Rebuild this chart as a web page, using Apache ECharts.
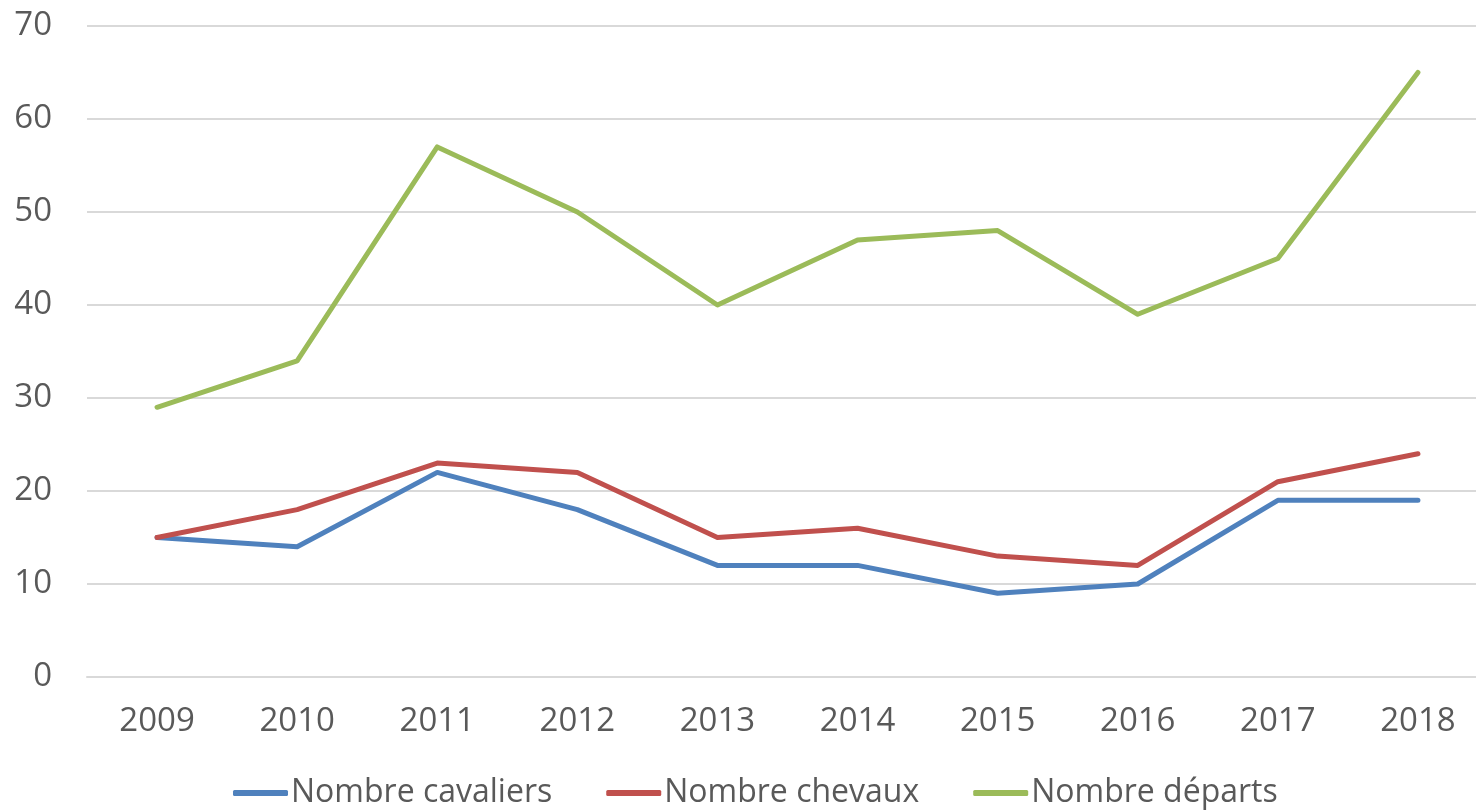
<!DOCTYPE html>
<html><head><meta charset="utf-8">
<script src="https://cdn.jsdelivr.net/npm/echarts@6/dist/echarts.min.js"></script>
<style>html,body{margin:0;padding:0;background:#fff;overflow:hidden}#c{width:1488px;height:811px}</style>
</head><body><div id="c"></div>
<script>
const years = ['2009','2010','2011','2012','2013','2014','2015','2016','2017','2018'];
const cavaliers = [15,14,22,18,12,12,9,10,19,19];
const chevaux = [15,18,23,22,15,16,13,12,21,24];
const departs = [29,34,57,50,40,47,48,39,45,65];
const names = ['Nombre cavaliers','Nombre chevaux','Nombre départs'];
const colors = ['#4F81BD','#C0504D','#9BBB59'];
const font = '"Open Sans", sans-serif';
const chart = echarts.init(document.getElementById('c'));
const mk = (name, data, color) => ({
  name, type: 'line', data, showSymbol: false, symbol: 'none',
  lineStyle: { color, width: 5, cap: 'round', join: 'round' },
  itemStyle: { color }, animation: false
});
chart.setOption({
  animation: false,
  grid: { left: 87, right: 0, top: 26, bottom: 134 },
  legend: {
    top: 772, left: 228, itemGap: 54, itemWidth: 55, itemHeight: 6,
    icon: 'roundRect',
    textStyle: { fontFamily: font, fontSize: 32, color: '#595959', padding: [0,0,0,-2] },
    data: names
  },
  xAxis: {
    type: 'category', data: years, boundaryGap: true,
    axisLine: { lineStyle: { color: '#d9d9d9', width: 2 } },
    axisTick: { show: false },
    axisLabel: { fontFamily: font, fontSize: 33, color: '#595959', margin: 28 }
  },
  yAxis: {
    type: 'value', min: 0, max: 70, interval: 10,
    axisLine: { show: false }, axisTick: { show: false },
    splitLine: { lineStyle: { color: '#d9d9d9', width: 2 } },
    axisLabel: { fontFamily: font, fontSize: 33, color: '#595959', margin: 35 }
  },
  series: [
    mk(names[0], cavaliers, colors[0]),
    mk(names[1], chevaux, colors[1]),
    mk(names[2], departs, colors[2])
  ]
});
</script></body></html>
